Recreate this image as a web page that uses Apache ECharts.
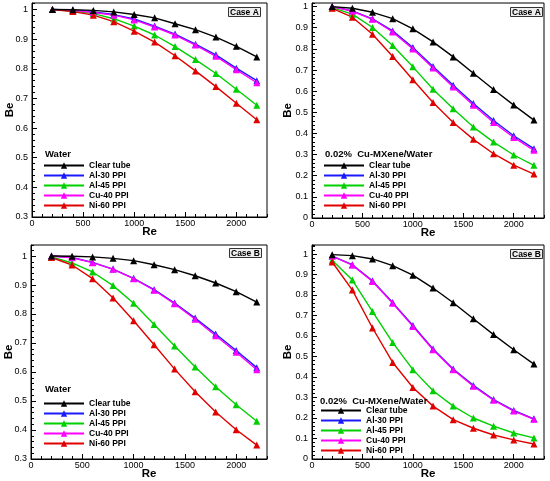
<!DOCTYPE html>
<html><head><meta charset="utf-8">
<script src="https://cdn.jsdelivr.net/npm/echarts@6/dist/echarts.min.js"></script>
<style>html,body{margin:0;padding:0;background:#fff}#c{width:550px;height:481px}</style>
</head><body><div id="c"></div>
<script>
const re = [200,400,600,800,1000,1200,1400,1600,1800,2000,2200];
const seriesNames = ['Clear tube','Al-30 PPI','Al-45 PPI','Cu-40 PPI','Ni-60 PPI'];
const colors = ['#000000','#1a1aff','#00d000','#ff00ff','#e00000'];
const panelLegendTitles = ['Water','0.02%  Cu-MXene/Water','Water','0.02%  Cu-MXene/Water'];
const panelCases = ['Case A','Case A','Case B','Case B'];
const yTickMin = [0.3, 0, 0.3, 0];

// Case A, Water
const a_clear = [1.0,0.999,0.997,0.992,0.983,0.972,0.952,0.932,0.907,0.876,0.840];
const a_al30  = [1.0,0.998,0.992,0.983,0.968,0.944,0.917,0.883,0.847,0.802,0.760];
const a_al45  = [1.0,0.995,0.986,0.969,0.944,0.914,0.875,0.831,0.784,0.731,0.677];
const a_cu40  = [1.0,0.997,0.990,0.981,0.965,0.941,0.914,0.880,0.842,0.797,0.753];
const a_ni60  = [1.0,0.993,0.981,0.959,0.927,0.890,0.844,0.793,0.740,0.684,0.628];
// Case A, nanofluid
const an_clear = [1.0,0.992,0.973,0.943,0.895,0.833,0.762,0.685,0.608,0.534,0.463];
const an_al30  = [1.0,0.980,0.942,0.885,0.806,0.717,0.628,0.542,0.461,0.389,0.328];
const an_al45  = [0.995,0.964,0.901,0.816,0.715,0.609,0.517,0.430,0.359,0.298,0.249];
const an_cu40  = [1.0,0.978,0.940,0.880,0.800,0.710,0.620,0.533,0.452,0.381,0.320];
const an_ni60  = [0.992,0.950,0.869,0.764,0.654,0.546,0.452,0.372,0.304,0.250,0.208];
// Case B, Water
const b_clear = [1.0,0.999,0.997,0.992,0.984,0.970,0.953,0.932,0.907,0.877,0.841];
const b_al30  = [1.0,0.995,0.978,0.955,0.923,0.884,0.838,0.786,0.731,0.674,0.615];
const b_al45  = [0.997,0.976,0.945,0.898,0.837,0.764,0.690,0.617,0.549,0.487,0.430];
const b_cu40  = [1.0,0.994,0.977,0.954,0.922,0.882,0.835,0.782,0.725,0.668,0.608];
const b_ni60  = [0.995,0.969,0.922,0.855,0.777,0.694,0.610,0.532,0.462,0.401,0.348];
// Case B, nanofluid
const bn_clear = [0.997,0.992,0.976,0.943,0.897,0.834,0.762,0.684,0.607,0.533,0.463];
const bn_al30  = [0.990,0.948,0.869,0.763,0.651,0.537,0.439,0.359,0.290,0.237,0.196];
const bn_al45  = [0.970,0.873,0.719,0.568,0.436,0.333,0.258,0.200,0.160,0.127,0.103];
const bn_cu40  = [0.990,0.946,0.866,0.760,0.647,0.533,0.436,0.355,0.287,0.234,0.194];
const bn_ni60  = [0.961,0.824,0.639,0.471,0.349,0.258,0.192,0.150,0.117,0.093,0.073];

const panels = [
  [a_clear,a_al30,a_al45,a_cu40,a_ni60],
  [an_clear,an_al30,an_al45,an_cu40,an_ni60],
  [b_clear,b_al30,b_al45,b_cu40,b_ni60],
  [bn_clear,bn_al30,bn_al45,bn_cu40,bn_ni60]
];

const grids = [
  {left:32, top:3, width:235, height:214, ymax:1.022},
  {left:312, top:3, width:232, height:215, ymax:1.017},
  {left:31, top:245, width:236, height:214, ymax:1.038},
  {left:312, top:245, width:232, height:214, ymax:1.044}
];
const legendPos = [
  {left:43, top:161, tl:45, tt:149},
  {left:323, top:161, tl:325, tt:149},
  {left:43, top:399, tl:45, tt:384},
  {left:320, top:406, tl:320, tt:396}
];
const casePos = [
  {left:228, top:7},{left:510, top:7},{left:229, top:248},{left:510, top:249}
];

const FONT = 'Liberation Sans';
const option = {animation:false, grid:[], xAxis:[], yAxis:[], series:[], legend:[], title:[]};
grids.forEach((g,i)=>{
  option.grid.push({left:g.left, top:g.top, width:g.width, height:g.height, show:true, borderColor:'#000', borderWidth:1, containLabel:false});
  option.xAxis.push({type:'value', gridIndex:i, min:0, max:2300, interval:500, position:'bottom',
    name:'Re', nameLocation:'middle', nameGap:9, nameMoveOverlap:false,
    nameTextStyle:{fontFamily:FONT, fontWeight:'bold', fontSize:11.5, color:'#000'},
    axisLine:{show:true, lineStyle:{color:'#000', width:1}},
    axisTick:{show:true, inside:true, length:5, lineStyle:{color:'#000'}},
    axisLabel:{fontFamily:FONT, fontSize:9, color:'#000', margin:2, showMaxLabel:false,
      formatter:v=>String(Math.round(v))},
    splitLine:{show:false}});
  option.xAxis.push({type:'value', gridIndex:i, min:0, max:2300, interval:100, position:'bottom', offset:0,
    axisLine:{show:false}, axisTick:{show:true, inside:true, length:3, lineStyle:{color:'#000'}},
    axisLabel:{show:false}, splitLine:{show:false}});
  option.yAxis.push({type:'value', gridIndex:i, min:yTickMin[i], max:g.ymax, interval:0.1, position:'left',
    name:'Be', nameLocation:'middle', nameGap:i%2===0?16:18, nameMoveOverlap:false,
    nameTextStyle:{fontFamily:FONT, fontWeight:'bold', fontSize:11.5, color:'#000'},
    axisLine:{show:true, lineStyle:{color:'#000', width:1}},
    axisTick:{show:true, inside:true, length:5, lineStyle:{color:'#000'}},
    axisLabel:{fontFamily:FONT, fontSize:9, color:'#000', margin:4, showMaxLabel:false,
      formatter:v=>{const r=Math.round(v*10)/10; return r===0?'0':String(r);}},
    splitLine:{show:false}});
  option.yAxis.push({type:'value', gridIndex:i, min:yTickMin[i], max:g.ymax, interval:0.02, position:'left', offset:0,
    axisLine:{show:false}, axisTick:{show:true, inside:true, length:3, lineStyle:{color:'#000'}},
    axisLabel:{show:false}, splitLine:{show:false}});

  panels[i].forEach((vals,k)=>{
    option.series.push({type:'line', name:seriesNames[k], xAxisIndex:2*i, yAxisIndex:2*i,
      data: re.map((x,j)=>[x, vals[j]]), symbol:'triangle', symbolSize:7,
      lineStyle:{color:colors[k], width:1.4}, itemStyle:{color:colors[k]}, z: k===0?3:2});
  });
  option.legend.push({orient:'vertical', left:legendPos[i].left, top:legendPos[i].top,
    data:seriesNames, itemWidth:40, itemHeight:8, itemGap:1, padding:0,
    textStyle:{fontFamily:FONT, fontWeight:'bold', fontSize:8.5, color:'#000'},
    selectedMode:false});
  option.title.push({text:panelLegendTitles[i], left:legendPos[i].tl, top:legendPos[i].tt, padding:0,
    textStyle:{fontFamily:FONT, fontWeight:'bold', fontSize:9.5, color:'#000'}});
  option.title.push({text:panelCases[i], left:casePos[i].left, top:casePos[i].top, padding:[1,2,0,2],
    backgroundColor:'#eeeeee', borderColor:'#333', borderWidth:1,
    textStyle:{fontFamily:FONT, fontWeight:'bold', fontSize:8.5, color:'#000', lineHeight:9}});
});
const chart = echarts.init(document.getElementById('c'));
chart.setOption(option);
</script></body></html>
